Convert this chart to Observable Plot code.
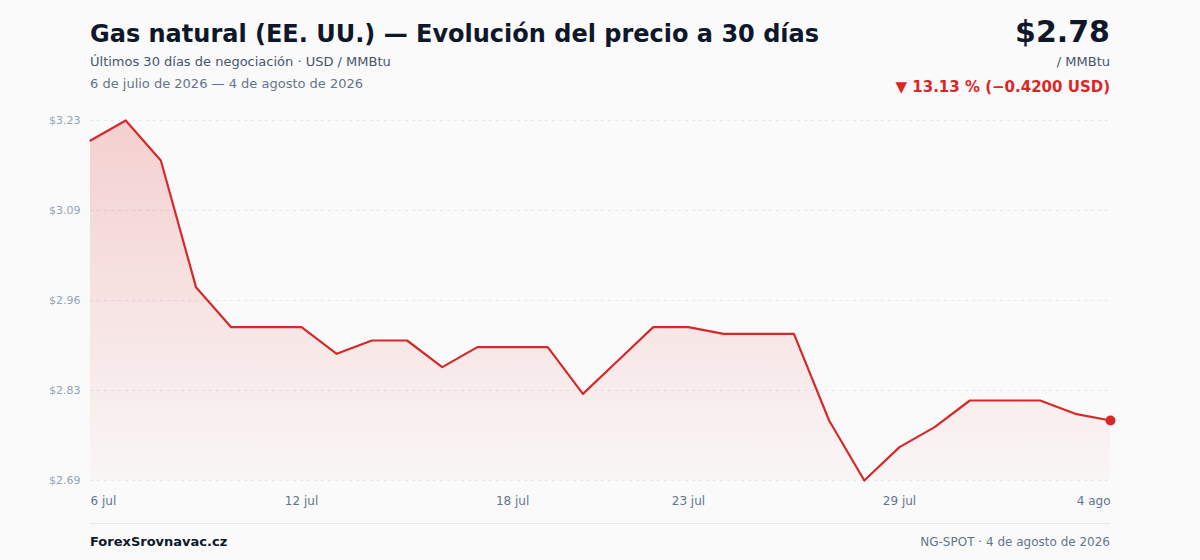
<!DOCTYPE html>
<html><head><meta charset="utf-8">
<script src="https://cdn.jsdelivr.net/npm/d3@7"></script>
<script src="https://cdn.jsdelivr.net/npm/@observablehq/plot@0.6"></script>
<style>
body{margin:0;background:#fafafa;font-family:"DejaVu Sans",sans-serif;}
#wrap{position:relative;width:1200px;height:560px;overflow:hidden;}
.abs{position:absolute;white-space:nowrap;line-height:1;}
#chart{position:absolute;left:0;top:100px;}
</style></head><body><div id="wrap">
<div class="abs" style="left:90px;top:22px;font-size:24px;font-weight:bold;color:#0f172a">Gas natural (EE. UU.) — Evolución del precio a 30 días</div>
<div class="abs" style="left:90px;top:55px;font-size:13px;color:#475569">Últimos 30 días de negociación · USD / MMBtu</div>
<div class="abs" style="left:90px;top:77px;font-size:13px;color:#64748b">6 de julio de 2026 — 4 de agosto de 2026</div>
<div class="abs" style="right:90px;top:17px;font-size:30px;font-weight:bold;color:#0f172a">$2.78</div>
<div class="abs" style="right:90px;top:55px;font-size:13px;color:#475569">/ MMBtu</div>
<div class="abs" style="right:90px;top:80px;font-size:15px;font-weight:bold;color:#dc2626">▼ 13.13 % (−0.4200 USD)</div>
<div id="chart"></div>
<div class="abs" style="left:90px;top:523px;width:1020px;height:1px;background:#e5e7eb"></div>
<div class="abs" style="left:90px;top:535px;font-size:13px;font-weight:bold;color:#0f172a">ForexSrovnavac.cz</div>
<div class="abs" style="right:90px;top:536px;font-size:12px;color:#64748b">NG-SPOT · 4 de agosto de 2026</div>
</div>
<script>
const dates = ["2026-07-06","2026-07-07","2026-07-08","2026-07-09","2026-07-10","2026-07-11","2026-07-12","2026-07-13","2026-07-14","2026-07-15",
"2026-07-16","2026-07-17","2026-07-18","2026-07-19","2026-07-20","2026-07-21","2026-07-22","2026-07-23","2026-07-24","2026-07-25",
"2026-07-26","2026-07-27","2026-07-28","2026-07-29","2026-07-30","2026-07-31","2026-08-01","2026-08-02","2026-08-03","2026-08-04"];
const prices = [3.20,3.23,3.17,2.98,2.92,2.92,2.92,2.88,2.90,2.90,
2.86,2.89,2.89,2.89,2.82,2.87,2.92,2.92,2.91,2.91,
2.91,2.78,2.69,2.74,2.77,2.81,2.81,2.81,2.79,2.78];
const yTicks = [2.69, 2.825, 2.96, 3.095, 3.23];
const yTickLabels = ["$2.69","$2.83","$2.96","$3.09","$3.23"];
const xTickDates = ["2026-07-06","2026-07-12","2026-07-18","2026-07-23","2026-07-29","2026-08-04"];
const xTickLabels = ["6 jul","12 jul","18 jul","23 jul","29 jul","4 ago"];

const data = dates.map((d,i)=>({date:new Date(d+"T00:00:00Z"), value:prices[i]}));
const xt = xTickDates.map(d=>new Date(d+"T00:00:00Z"));
const xLab = new Map(xt.map((d,i)=>[+d, xTickLabels[i]]));
const yLab = new Map(yTicks.map((v,i)=>[v, yTickLabels[i]]));
const yMin = yTicks[0], yMax = yTicks[yTicks.length-1];
const red = "#dc2626";
const last = data[data.length-1];

const axisCommon = {tickSize:0, tickPadding:16, fontSize:12, fill:"#64748b", tickFormat:d=>xLab.get(+d)};
const plot = Plot.plot({
  width:1200, height:420,
  marginTop:20, marginBottom:40, marginLeft:90, marginRight:90,
  style:{background:"transparent", fontFamily:"DejaVu Sans, sans-serif", overflow:"visible"},
  x:{type:"utc", domain:[data[0].date, last.date]},
  y:{domain:[yMin, yMax]},
  marks:[
    Plot.ruleY(yTicks, {stroke:"#e5e7eb", strokeDasharray:"3,4", strokeWidth:1}),
    Plot.areaY(data, {x:"date", y1:()=>yMin, y2:"value", fill:"url(#ngGrad)"}),
    Plot.lineY(data, {x:"date", y:"value", stroke:"#d42a2a", strokeWidth:2.2, strokeLinejoin:"round"}),
    Plot.dot([last], {x:"date", y:"value", r:5, fill:red}),
    Plot.axisY({ticks:yTicks, tickSize:0, tickPadding:10, fontSize:11, fill:"#94a3b8", tickFormat:v=>yLab.get(v), label:null}),
    Plot.axisX([xt[0]], {...axisCommon, textAnchor:"start", label:null}),
    Plot.axisX(xt.slice(1,-1), {...axisCommon, label:null}),
    Plot.axisX([xt[xt.length-1]], {...axisCommon, textAnchor:"end", label:null})
  ]
});
const ns = "http://www.w3.org/2000/svg";
const defs = document.createElementNS(ns,"defs");
defs.innerHTML = `<linearGradient id="ngGrad" x1="0" y1="0" x2="0" y2="1">
<stop offset="0" stop-color="${red}" stop-opacity="0.2"/>
<stop offset="1" stop-color="${red}" stop-opacity="0.02"/></linearGradient>`;
plot.insertBefore(defs, plot.firstChild);
document.getElementById("chart").appendChild(plot);
</script></body></html>
